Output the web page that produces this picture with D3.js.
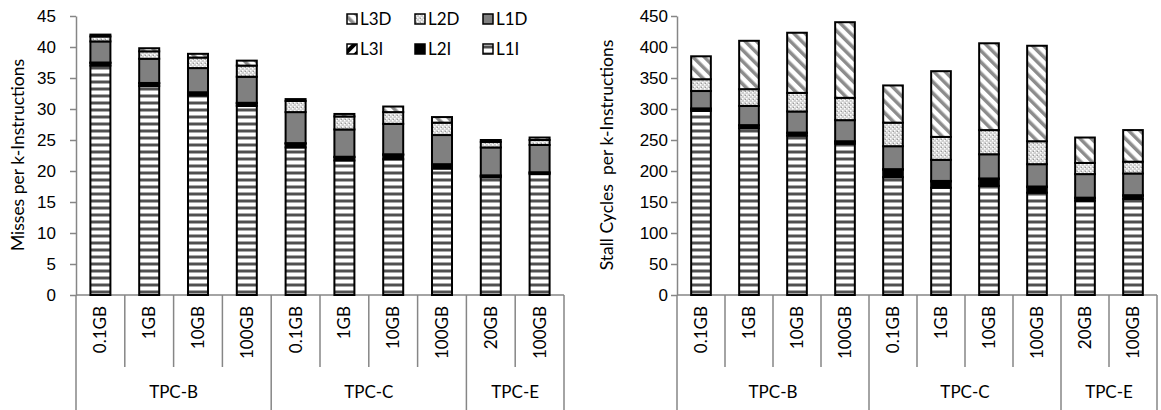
<!DOCTYPE html>
<html>
<head>
<meta charset="utf-8">
<script src="https://cdn.jsdelivr.net/npm/d3@7"></script>
<style>
	body { margin: 0; background: #fff; }
	svg { display: block; font-family: Lato, "Open Sans", sans-serif; }
	.axis path, .axis line { stroke: #868686; stroke-width: 1.5px; }
	.axis text { font-size: 17px; fill: #000; }
	.ylabel { font-size: 17.5px; }
	.cat { font-size: 17px; }
	.grp { font-size: 17px; }
	.legend text { font-size: 17px; }
</style>
</head>
<body>
<svg></svg>
<script>
	// x categories (dataset size) and the benchmark each one belongs to
	var categories = ["0.1GB","1GB","10GB","100GB","0.1GB","1GB","10GB","100GB","20GB","100GB"];
	var benchmarks = ["TPC-B","TPC-B","TPC-B","TPC-B","TPC-C","TPC-C","TPC-C","TPC-C","TPC-E","TPC-E"];
	var seriesKeys = ["L1I","L2I","L3I","L1D","L2D","L3D"];
	var legendOrder = ["L3D","L2D","L1D","L3I","L2I","L1I"];

	// misses per k-instructions
	var missL1I = [37.0, 33.7, 32.2, 30.5, 23.8, 21.7, 21.9, 20.4, 19.0, 19.5];
	var missL2I = [0.4, 0.4, 0.4, 0.4, 0.6, 0.5, 0.7, 0.6, 0.2, 0.2];
	var missL3I = [0.1, 0.1, 0.1, 0.1, 0.1, 0.1, 0.1, 0.1, 0.1, 0.1];
	var missL1D = [3.4, 3.9, 3.9, 4.2, 5.0, 4.4, 4.9, 4.7, 4.5, 4.4];
	var missL2D = [0.8, 1.2, 1.7, 1.8, 1.8, 2.1, 1.9, 2.0, 0.9, 0.8];
	var missL3D = [0.3, 0.5, 0.6, 0.8, 0.3, 0.4, 0.9, 0.9, 0.3, 0.4];

	// stall cycles per k-instructions
	var stallL1I = [297, 269, 257, 244, 190, 173, 176, 165, 152, 155];
	var stallL2I = [3, 4, 4, 3, 12, 10, 11, 9, 4, 5];
	var stallL3I = [1, 1, 1, 1, 1, 1, 1, 1, 1, 1];
	var stallL1D = [28, 31, 34, 34, 37, 34, 39, 36, 38, 35];
	var stallL2D = [19, 27, 30, 36, 38, 37, 39, 37, 18, 19];
	var stallL3D = [37, 78, 97, 122, 60, 106, 140, 154, 41, 51];

	var missTicks = [0,5,10,15,20,25,30,35,40,45];
	var stallTicks = [0,50,100,150,200,250,300,350,400,450];

	var W = 1161, H = 410;
	var svg = d3.select("svg").attr("width", W).attr("height", H);
	var defs = svg.append("defs");

	// fill patterns for each cache level
	var p;
	p = defs.append("pattern").attr("id","pL1I").attr("patternUnits","userSpaceOnUse").attr("width",8).attr("height",7);
	p.append("rect").attr("width",8).attr("height",7).attr("fill","#fff");
	p.append("rect").attr("y",3).attr("width",8).attr("height",1).attr("fill","#a8a8a8");
	p.append("rect").attr("y",4).attr("width",8).attr("height",2).attr("fill","#505050");
	p.append("rect").attr("y",6).attr("width",8).attr("height",1).attr("fill","#a8a8a8");

	p = defs.append("pattern").attr("id","pL3I").attr("patternUnits","userSpaceOnUse").attr("width",8).attr("height",8).attr("patternTransform","rotate(45)");
	p.append("rect").attr("width",8).attr("height",8).attr("fill","#fff");
	p.append("rect").attr("width",4).attr("height",8).attr("fill","#000");

	p = defs.append("pattern").attr("id","pL2D").attr("patternUnits","userSpaceOnUse").attr("width",4).attr("height",4);
	p.append("rect").attr("width",4).attr("height",4).attr("fill","#cfcfcf");
	p.append("rect").attr("x",0).attr("y",0).attr("width",1.5).attr("height",1.5).attr("fill","#fff");
	p.append("rect").attr("x",2).attr("y",2).attr("width",1.5).attr("height",1.5).attr("fill","#fff");
	p.append("rect").attr("x",1).attr("y",3).attr("width",1).attr("height",1).attr("fill","#9a9a9a");

	p = defs.append("pattern").attr("id","pL3D").attr("patternUnits","userSpaceOnUse").attr("width",8).attr("height",8).attr("patternTransform","rotate(-45)");
	p.append("rect").attr("width",8).attr("height",8).attr("fill","#fff");
	p.append("rect").attr("width",3.5).attr("height",8).attr("fill","#8c8c8c");

	var fills = { L1I: "url(#pL1I)", L2I: "#000", L3I: "url(#pL3I)", L1D: "#808080", L2D: "url(#pL2D)", L3D: "url(#pL3D)" };

	function rows(a, b, c, d, e, f) {
		return categories.map(function (cat, i) {
			return { L1I: a[i], L2I: b[i], L3I: c[i], L1D: d[i], L2D: e[i], L3D: f[i] };
		});
	}

	function drawChart(cfg) {
		var x = d3.scaleBand().domain(d3.range(categories.length)).range([cfg.x0, cfg.x1]);
		var y = d3.scaleLinear().domain([0, cfg.ticks[cfg.ticks.length-1]]).range([295, 16]);
		var g = svg.append("g");

		// y axis
		g.append("g").attr("class","axis").attr("transform","translate(" + cfg.x0 + ",0)")
			.call(d3.axisLeft(y).tickValues(cfg.ticks).tickSize(6).tickPadding(cfg.pad).tickSizeOuter(0));

		// x axis: baseline plus two label rows with separators
		var ax = g.append("g").attr("class","axis");
		ax.append("line").attr("x1", cfg.x0).attr("x2", cfg.x1).attr("y1", 295).attr("y2", 295);
		categories.forEach(function (c, i) {
			var xl = x(i);
			var isGroupEdge = i == 0 || benchmarks[i] != benchmarks[i-1];
			ax.append("line").attr("x1", xl).attr("x2", xl).attr("y1", 295).attr("y2", isGroupEdge ? H : 367);
		});
		ax.append("line").attr("x1", cfg.x1).attr("x2", cfg.x1).attr("y1", 295).attr("y2", H);

		g.selectAll(".cat").data(categories).enter().append("text")
			.attr("class","cat")
			.attr("transform", function (d, i){ return "translate(" + (x(i) + x.bandwidth()/2) + ",306) rotate(-90)"; })
			.attr("text-anchor","end")
			.attr("dy","0.35em")
			.text(function (d){ return d; });

		var groups = d3.groups(d3.range(categories.length), function (i){ return benchmarks[i]; });
		g.selectAll(".grp").data(groups).enter().append("text")
			.attr("class","grp")
			.attr("x", function (d){ var a = d[1][0], b = d[1][d[1].length-1]; return (x(a) + x(b) + x.bandwidth())/2; })
			.attr("y", 398)
			.attr("text-anchor","middle")
			.text(function (d){ return d[0]; });

		// y label
		g.append("text").attr("class","ylabel")
			.attr("transform","translate(" + cfg.labelX + ",155) rotate(-90)")
			.attr("text-anchor","middle")
			.attr("dy","0.35em")
			.style("white-space","pre")
			.text(cfg.label);

		// stacked bars
		var stacked = d3.stack().keys(seriesKeys)(cfg.data);
		var bw = x.bandwidth() * 0.41;
		g.selectAll(".layer").data(stacked).enter().append("g")
			.attr("fill", function (d){ return fills[d.key]; })
			.selectAll("rect").data(function (d){ return d; }).enter().append("rect")
			.attr("x", function (d, i){ return x(i) + (x.bandwidth() - bw)/2; })
			.attr("y", function (d){ return y(d[1]); })
			.attr("width", bw)
			.attr("height", function (d){ return Math.max(0, y(d[0]) - y(d[1])); })
			.attr("stroke","#000")
			.attr("stroke-width",2);
	}

	drawChart({ x0: 76, x1: 564, ticks: missTicks, pad: 14, labelX: 18,
		label: "Misses per k-Instructions",
		data: rows(missL1I, missL2I, missL3I, missL1D, missL2D, missL3D) });
	drawChart({ x0: 677, x1: 1157, ticks: stallTicks, pad: 3, labelX: 607,
		label: "Stall Cycles  per k-Instructions",
		data: rows(stallL1I, stallL2I, stallL3I, stallL1D, stallL2D, stallL3D) });

	// legend (left chart only), 3 columns x 2 rows
	var legend = svg.append("g").attr("class","legend");
	var lx = d3.scalePoint().domain([0,1,2]).range([347, 483]);
	var ly = d3.scalePoint().domain([0,1]).range([19, 49]);
	var item = legend.selectAll("g").data(legendOrder).enter().append("g")
		.attr("transform", function (d, i){ return "translate(" + lx(i % 3) + "," + ly(Math.floor(i / 3)) + ")"; });
	item.append("rect").attr("x",0).attr("y",-5).attr("width",10).attr("height",10)
		.attr("fill", function (d){ return fills[d]; }).attr("stroke","#000").attr("stroke-width",1.5);
	item.append("text").attr("x",13).attr("dy","0.35em").text(function (d){ return d; });
</script>
</body>
</html>
